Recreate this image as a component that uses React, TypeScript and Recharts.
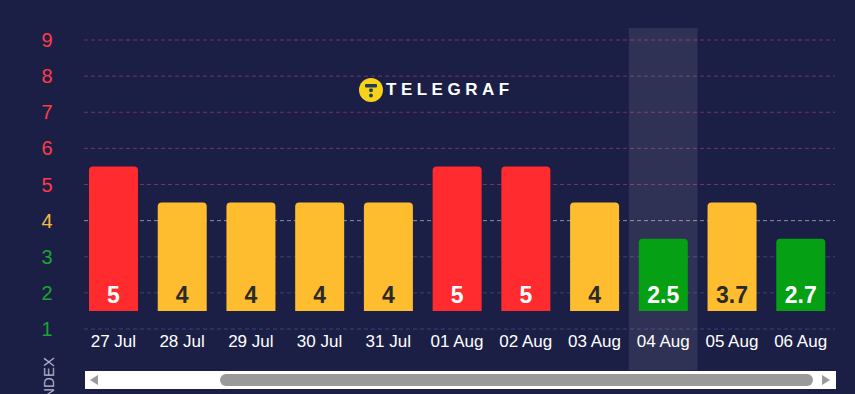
import { BarChart, Bar, XAxis, YAxis, Cell, LabelList, CartesianGrid, ReferenceArea } from 'recharts'

const days = ['27 Jul', '28 Jul', '29 Jul', '30 Jul', '31 Jul', '01 Aug', '02 Aug', '03 Aug', '04 Aug', '05 Aug', '06 Aug']
const indexValues = [5, 4, 4, 4, 4, 5, 5, 4, 2.5, 3.7, 2.7]
// bar tops as drawn in the picture (bars float from 1.5)
const barTops = [5.5, 4.5, 4.5, 4.5, 4.5, 5.5, 5.5, 4.5, 3.5, 4.5, 3.5]
const barBase = 1.5
const yTicks = [1, 2, 3, 4, 5, 6, 7, 8, 9]
const highlighted = '04 Aug'

const RED = '#ff2b2e'
const YELLOW = '#fdbd2e'
const GREEN = '#05a014'
const BG = '#1c1f45'

const data = days.map((d, i) => ({ day: d, range: [barBase, barTops[i]], value: indexValues[i] }))

const levelColor = (v: number) => (v >= 5 ? RED : v >= 4 ? YELLOW : GREEN)
const tickColor = (v: number) => (v >= 5 ? '#ff3b45' : v >= 4 ? '#f5b945' : '#17a630')
const gridColor = (v: number) => (v >= 5 ? '#7a3063' : v >= 4 ? '#8e8c9c' : '#3c416e')

const YTick = (props: any) => {
    const v = props.payload.value
    return (
        <text x={47} y={props.y} dy={7} textAnchor="middle" fontSize={20} fill={tickColor(v)} fontFamily="Liberation Sans, Arial, sans-serif">
            {v}
        </text>
    )
}

const XTick = (props: any) => (
    <text x={props.x} y={props.y} dy={10} textAnchor="middle" fontSize={17} fill="#ffffff" fontFamily="Liberation Sans, Arial, sans-serif">
        {props.payload.value}
    </text>
)

const GridLine = (props: any) => {
    const v = yTicks[props.index]
    return (
        <line
            key={props.key}
            x1={props.x1 + 5}
            x2={props.x2}
            y1={props.y1}
            y2={props.y2}
            stroke={gridColor(v)}
            strokeDasharray="4 3"
            strokeWidth={1}
        />
    )
}

const BarLabel = (props: any) => {
    const { x, y, width, height, index } = props
    const v = indexValues[index]
    const dark = barTops[index] === 4.5
    return (
        <text
            x={x + width / 2}
            y={y + height - 8}
            textAnchor="middle"
            fontSize={23}
            fontWeight="bold"
            fill={dark ? '#2a2a2a' : '#ffffff'}
            fontFamily="Liberation Sans, Arial, sans-serif"
        >
            {v}
        </text>
    )
}

export default function App() {
    return (
        <div style={{ position: 'fixed', left: 0, top: 0, width: 855, height: 394, background: BG, overflow: 'hidden' }}>
            <BarChart width={855} height={394} data={data} margin={{ top: 40, right: 20, bottom: 35, left: 0 }} barSize={49}>
                <ReferenceArea x1={highlighted} x2={highlighted} y1={-0.14} y2={9.33} fill="#ffffff" fillOpacity={0.085} stroke="none" ifOverflow="visible" />
                <CartesianGrid vertical={false} horizontalValues={yTicks} horizontal={(p: any) => <GridLine {...p} />} />
                <XAxis dataKey="day" axisLine={false} tickLine={false} tick={<XTick />} height={30} interval={0} />
                <YAxis
                    domain={[1, 9]}
                    ticks={yTicks}
                    width={79}
                    axisLine={false}
                    tickLine={false}
                    tick={<YTick />}
                    allowDataOverflow
                />
                <Bar dataKey="range" isAnimationActive={false} radius={[4, 4, 0, 0]}>
                    {data.map((d, i) => (
                        <Cell key={d.day} fill={levelColor(barTops[i])} />
                    ))}
                    <LabelList dataKey="value" content={<BarLabel />} />
                </Bar>
            </BarChart>

            {/* logo */}
            <div style={{ position: 'absolute', left: 359, top: 78, display: 'flex', alignItems: 'center' }}>
                <svg width={24} height={24}>
                    <circle cx={12} cy={12} r={12} fill="#f7d21c" />
                    <rect x={6} y={6} width={12} height={3.5} rx={1} fill="#1f3f57" />
                    <rect x={10.2} y={10.5} width={3.6} height={3.4} rx={1} fill="#1f3f57" />
                    <circle cx={12} cy={17.5} r={1.9} fill="#1f3f57" />
                </svg>
                <span
                    style={{
                        marginLeft: 3,
                        color: '#ffffff',
                        fontFamily: 'Liberation Sans, Arial, sans-serif',
                        fontWeight: 'bold',
                        fontSize: 17,
                        letterSpacing: 4.5,
                    }}
                >
                    TELEGRAF
                </span>
            </div>

            {/* axis title */}
            <div
                style={{
                    position: 'absolute',
                    left: 48,
                    top: 380,
                    transform: 'translate(-50%, -50%) rotate(-90deg)',
                    color: '#b3b5d2',
                    fontFamily: 'Liberation Sans, Arial, sans-serif',
                    fontSize: 15,
                    whiteSpace: 'nowrap',
                }}
            >
                INDEX
            </div>

            {/* scrollbar */}
            <div style={{ position: 'absolute', left: 85, top: 371, width: 751, height: 18, background: '#ffffff' }}>
                <svg width={751} height={18} style={{ display: 'block' }}>
                    <polygon points="5,9 13,4 13,14" fill="#9a9a9a" />
                    <rect x={135} y={3} width={593} height={12} rx={6} fill="#9a9a9a" />
                    <polygon points="745,9 737,4 737,14" fill="#9a9a9a" />
                </svg>
            </div>
        </div>
    )
}
